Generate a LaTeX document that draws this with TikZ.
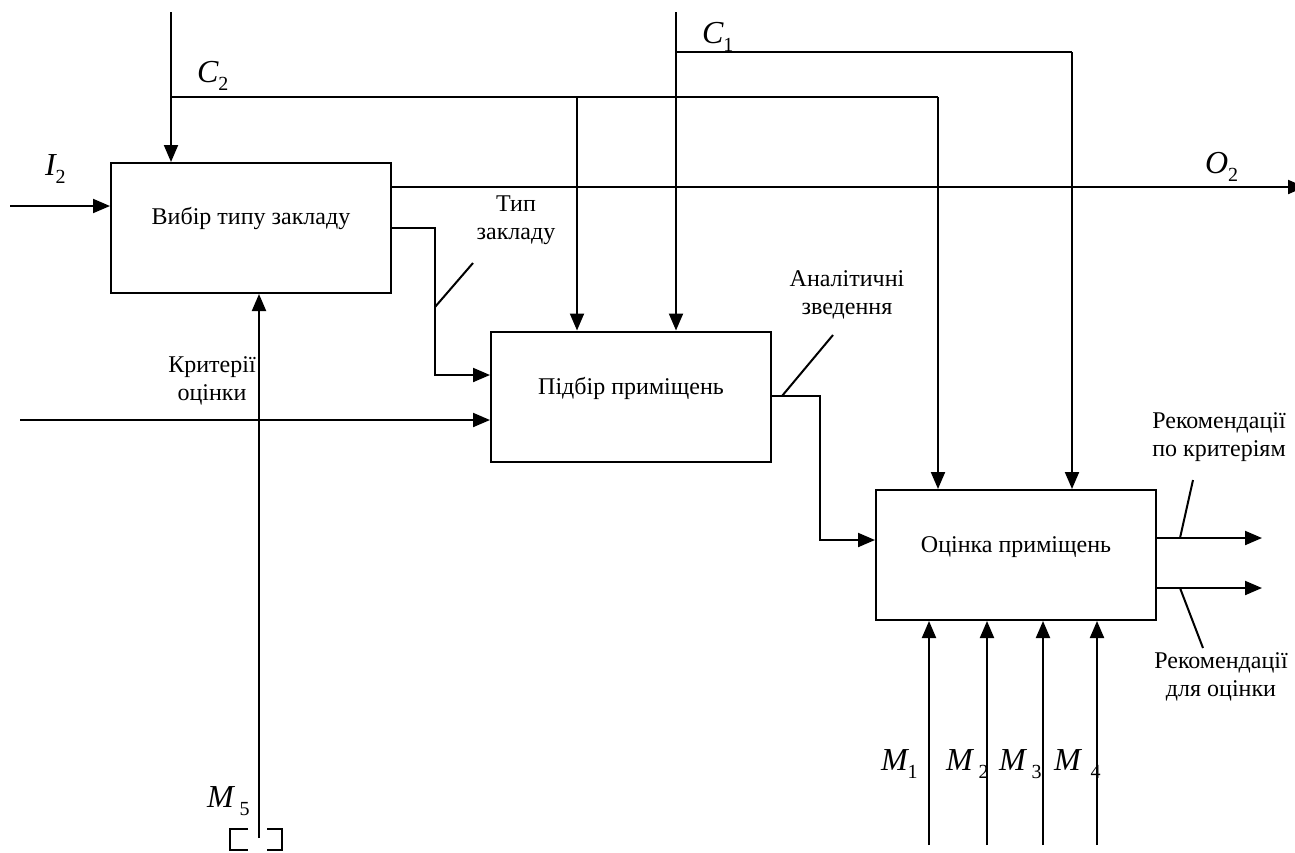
\documentclass[tikz,border=0pt]{standalone}
\usepackage{fontspec}
\setmainfont{Liberation Serif}
\usetikzlibrary{arrows.meta}
\newcommand{\idxlab}[3][0pt]{{\fontsize{16}{16}\selectfont\itshape #2}\kern#1\raisebox{-4pt}{\fontsize{10}{10}\selectfont #3}}
\begin{document}
\begin{tikzpicture}[x=0.5pt,y=-0.5pt, line width=1pt,
  blk/.style={draw, line width=1pt, minimum width=140pt, minimum height=65pt, inner sep=0pt},
  lbl/.style={font=\fontsize{12}{14}\selectfont, inner sep=0pt, align=center},
  sym/.style={anchor=base west, inner sep=0pt},
  arr/.style={-{Triangle[length=8.5pt,width=7pt]}}]
\useasboundingbox (0,0) rectangle (1295,852);
% blocks
\node[blk] (b1) at (251,228) {};
\node[blk] (b2) at (631,396.5) {};
\node[blk] (b3) at (1016,555) {};
\node[lbl] (t1) at (251,218) {Вибір типу закладу};
\node[lbl] (t2) at (631,388) {Підбір приміщень};
\node[lbl] (t3) at (1016,547) {Оцінка приміщень};
% control C2
\coordinate (c2s) at (171,12);
\coordinate (c2j) at (171,97);
\coordinate (c2b) at (577,97);
\coordinate (c2r) at (938,97);
\coordinate (c2k) at (555,97);
\draw[arr] (c2s) -- (c2s |- b1.north);
\draw (c2j) -- (c2r);
\draw[line width=1.3pt] (c2k) -- (c2b);
\draw[arr] (c2r) -- (c2r |- b3.north);
\draw[arr] (c2b) -- (c2b |- b2.north);
% control C1
\coordinate (c1s) at (676,12);
\coordinate (c1j) at (676,52);
\coordinate (c1r) at (1072,52);
\draw[arr] (c1s) -- (c1s |- b2.north);
\draw (c1j) -- (c1r);
\draw[arr] (c1r) -- (c1r |- b3.north);
% input I2
\coordinate (i2) at (10,206);
\draw[arr] (i2) -- (i2 -| b1.west);
% output O2
\coordinate (o2) at (1305,187);
\draw[arr] (b1.east |- o2) -- (o2);
% type of institution
\coordinate (tz) at (435,228);
\coordinate (tzb) at (435,375);
\draw[arr] (b1.east |- tz) -- (tz) -- (tzb) -- (tzb -| b2.west);
\coordinate (k1a) at (435,307);
\coordinate (k1b) at (473,263);
\draw (k1a) -- (k1b);
% criteria
\coordinate (kr) at (20,420);
\draw[arr] (kr) -- (kr -| b2.west);
% M5
\coordinate (m5) at (259,838);
\draw[arr] (m5) -- (m5 |- b1.south);
\draw (248,829) -- (230,829) -- (230,850) -- (248,850);
\draw (267,829) -- (282,829) -- (282,850) -- (267,850);
% box2 output
\coordinate (a1) at (820,396);
\coordinate (a2) at (820,540);
\draw[arr] (b2.east |- a1) -- (a1) -- (a2) -- (a2 -| b3.west);
\coordinate (k2a) at (782,396);
\coordinate (k2b) at (833,335);
\draw (k2a) -- (k2b);
% box3 outputs
\coordinate (r1) at (1262,538);
\coordinate (r2) at (1262,588);
\draw[arr] (b3.east |- r1) -- (r1);
\draw[arr] (b3.east |- r2) -- (r2);
\coordinate (k3a) at (1180,538);
\coordinate (k3b) at (1193,480);
\coordinate (k4a) at (1180,588);
\coordinate (k4b) at (1203,648);
\draw (k3a) -- (k3b);
\draw (k4a) -- (k4b);
% mechanisms
\coordinate (m1) at (929,845);
\coordinate (m2) at (987,845);
\coordinate (m3) at (1043,845);
\coordinate (m4) at (1097,845);
\draw[arr] (m1) -- (m1 |- b3.south);
\draw[arr] (m2) -- (m2 |- b3.south);
\draw[arr] (m3) -- (m3 |- b3.south);
\draw[arr] (m4) -- (m4 |- b3.south);
% symbol labels
\node[sym] (lc2) at (196,82) {\idxlab{C}{2}};
\node[sym] (lc1) at (701,43) {\idxlab{C}{1}};
\node[sym] (li2) at (44,175) {\idxlab{I}{2}};
\node[sym] (lo2) at (1204,173) {\idxlab{O}{2}};
\node[sym] (lm1) at (880,770) {\idxlab{M}{1}};
\node[sym] (lm2) at (945,770) {\idxlab[3pt]{M}{2}};
\node[sym] (lm3) at (998,770) {\idxlab[3pt]{M}{3}};
\node[sym] (lm4) at (1053,770) {\idxlab[5pt]{M}{4}};
\node[sym] (lm5) at (206,807) {\idxlab[3pt]{M}{5}};
% text labels
\node[lbl] (ltz) at (516,220) {Тип\\закладу};
\node[lbl] (lan) at (847,295) {Аналітичні\\зведення};
\node[lbl] (lkr) at (212,381) {Критерії\\оцінки};
\node[lbl] (lr1) at (1219,437) {Рекомендації\\по критеріям};
\node[lbl] (lr2) at (1221,677) {Рекомендації\\для оцінки};
\end{tikzpicture}
\end{document}
